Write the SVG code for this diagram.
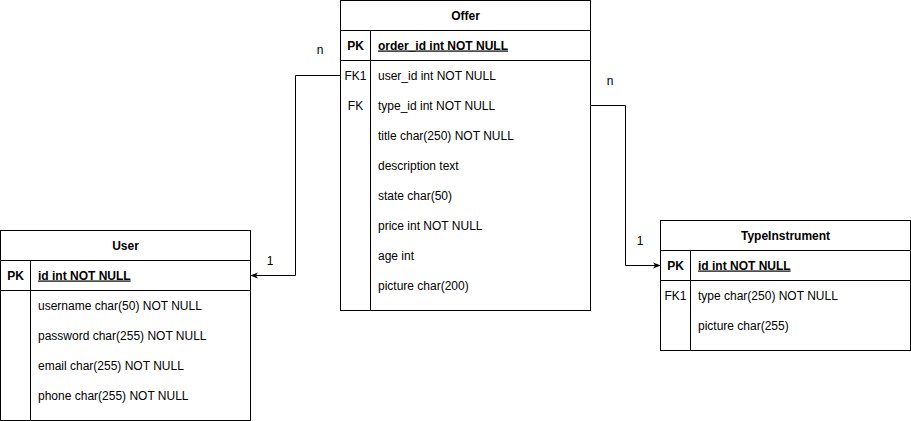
<svg xmlns="http://www.w3.org/2000/svg" width="911" height="421" viewBox="0 0 911 421">
<style>
text{font-family:"Liberation Sans",Arial,sans-serif;font-size:12px;fill:#000}
.h{font-weight:bold;text-anchor:middle}
.k{text-anchor:middle}
.pk{font-weight:bold;text-decoration:underline}
.b{fill:#fff;stroke:#000;stroke-width:1}
.l{stroke:#000;stroke-width:1;fill:none}
.lab{fill:#000;text-anchor:middle}
</style>
<defs>
<marker id="arr" viewBox="0 0 10 10" refX="9" refY="5" markerWidth="8" markerHeight="8" markerUnits="userSpaceOnUse" orient="auto">
<path d="M0,1 L10,5 L0,9 L3,5 Z" fill="#000"/>
</marker>
</defs>
<g id="connectors">
<polyline class="l" points="340.5,75.5 295.5,75.5 295.5,275.5 251,275.5" marker-end="url(#arr)"/>
<polyline class="l" points="590.5,105.5 625.5,105.5 625.5,265.5 660,265.5" marker-end="url(#arr)"/>
<text class="lab" x="320" y="54">n</text>
<text class="lab" x="270" y="265">1</text>
<text class="lab" x="610" y="85">n</text>
<text class="lab" x="640" y="245">1</text>
</g>
<g id="offer">
<rect class="b" x="340.5" y="0.5" width="250" height="310"/>
<line class="l" x1="340.5" y1="30.5" x2="590.5" y2="30.5"/>
<line class="l" x1="340.5" y1="60.5" x2="590.5" y2="60.5"/>
<line class="l" x1="370.5" y1="30.5" x2="370.5" y2="310.5"/>
<text class="h" x="465.5" y="19.5">Offer</text>
<text class="k" x="355.5" y="49.5" font-weight="bold">PK</text>
<text class="pk" x="378" y="49.5">order_id int NOT NULL</text>
<text class="k" x="355.5" y="79.5">FK1</text>
<text x="378" y="79.5">user_id int NOT NULL</text>
<text class="k" x="355.5" y="109.5">FK</text>
<text x="378" y="109.5">type_id int NOT NULL</text>
<text x="378" y="139.5">title char(250) NOT NULL</text>
<text x="378" y="169.5">description text</text>
<text x="378" y="199.5">state char(50)</text>
<text x="378" y="229.5">price int NOT NULL</text>
<text x="378" y="259.5">age int</text>
<text x="378" y="289.5">picture char(200)</text>
</g>
<g id="user">
<rect class="b" x="0.5" y="230.5" width="250" height="190"/>
<line class="l" x1="0.5" y1="260.5" x2="250.5" y2="260.5"/>
<line class="l" x1="0.5" y1="290.5" x2="250.5" y2="290.5"/>
<line class="l" x1="30.5" y1="260.5" x2="30.5" y2="420.5"/>
<text class="h" x="125.5" y="249.5">User</text>
<text class="k" x="15.5" y="279.5" font-weight="bold">PK</text>
<text class="pk" x="38" y="279.5">id int NOT NULL</text>
<text x="38" y="309.5">username char(50) NOT NULL</text>
<text x="38" y="339.5">password char(255) NOT NULL</text>
<text x="38" y="369.5">email char(255) NOT NULL</text>
<text x="38" y="399.5">phone char(255) NOT NULL</text>
</g>
<g id="typeinstrument">
<rect class="b" x="660.5" y="220.5" width="250" height="130"/>
<line class="l" x1="660.5" y1="250.5" x2="910.5" y2="250.5"/>
<line class="l" x1="660.5" y1="280.5" x2="910.5" y2="280.5"/>
<line class="l" x1="690.5" y1="250.5" x2="690.5" y2="350.5"/>
<text class="h" x="785.5" y="239.5">TypeInstrument</text>
<text class="k" x="675.5" y="269.5" font-weight="bold">PK</text>
<text class="pk" x="698" y="269.5">id int NOT NULL</text>
<text class="k" x="675.5" y="299.5">FK1</text>
<text x="698" y="299.5">type char(250) NOT NULL</text>
<text x="698" y="329.5">picture char(255)</text>
</g>
</svg>
